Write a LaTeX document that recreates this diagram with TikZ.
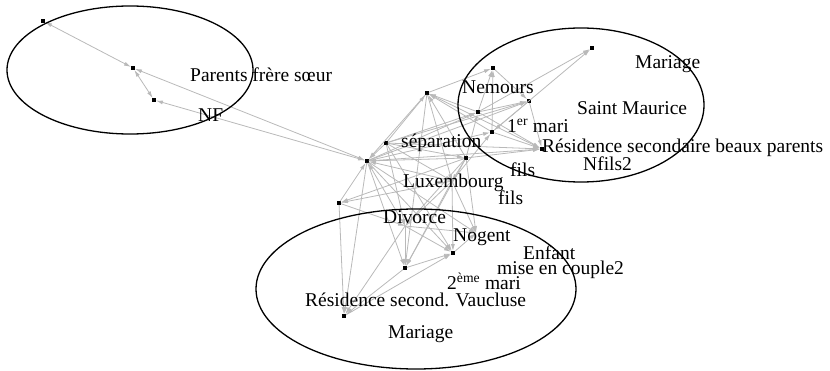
\documentclass[tikz,border=0pt]{standalone}
\usepackage{fontspec}
\setmainfont{Liberation Serif}
\usetikzlibrary{arrows.meta}
\tikzset{
  sommet/.style={fill=black, inner sep=0pt, minimum size=3.5pt},
  lien/.style={draw=gray!55, line width=0.8pt, -{Latex[length=7pt,width=4pt]}},
  lienbi/.style={lien, {Latex[length=7pt,width=4pt]}-{Latex[length=7pt,width=4pt]}},
  contour/.style={draw=black, line width=1.3pt},
  etiq/.style={anchor=base west, inner sep=0pt, font=\fontsize{19.5}{22}\selectfont}
}
\begin{document}
\begin{tikzpicture}[x=1pt, y=-1pt]
      \useasboundingbox (0, 0) rectangle (830, 371);

      \node[sommet] (A) at (43, 21){};
      \node[sommet] (B) at (133, 68){};
      \node[sommet] (C) at (154, 100){};
      \node[sommet] (J) at (367, 161){};
      \node[sommet] (I) at (386, 143){};
      \node[sommet] (E) at (427, 93){};
      \node[sommet] (D) at (493, 68){};
      \node[sommet] (F) at (478, 112){};
      \node[sommet] (G) at (529, 101){};
      \node[sommet] (H) at (492, 132){};
      \node[sommet] (K) at (466, 158){};
      \node[sommet] (M) at (542, 149){};
      \node[sommet] (N) at (592, 48){};
      \node[sommet] (L) at (339, 203){};
      \node[sommet] (P) at (453, 253){};
      \node[sommet] (Q) at (405, 268){};
      \node[sommet] (R) at (344, 316){};
      \coordinate (lux) at (452, 181);
      \coordinate (div) at (405, 226);
      \coordinate (nog) at (476, 233);

      \draw[lienbi] (A) to (B);
      \draw[lienbi] (B) to (C);
      \draw[lienbi] (B) to (J);
      \draw[lienbi] (C) to (J);

      \draw[lien] (I) to (J);
      \draw[lien] (E) to (J);
      \draw[lien] (L) to (J);
      \draw[lien] (lux) to (J);
      \draw[lien] (div) to (J);
      \draw[lien] (K) to (J);
      \draw[lien] (J) to (F);
      \draw[lien] (J) to (H);
      \draw[lien] (J) to (G);
      \draw[lien] (J) to (M);
      \draw[lien] (J) to (Q);
      \draw[lien] (J) to (P);
      \draw[lien] (J) to (R);
      \draw[lien] (J) to (nog);

      \draw[lien] (I) to (E);
      \draw[lien] (I) to (F);
      \draw[lien] (I) to (G);
      \draw[lien] (I) to (M);
      \draw[lien] (I) to (K);
      \draw[lien] (I) to (lux);
      \draw[lien] (I) to (div);
      \draw[lien] (I) to (P);

      \draw[lien] (F) to (E);
      \draw[lien] (H) to (E);
      \draw[lien] (K) to (E);
      \draw[lien] (E) to (M);
      \draw[lien] (E) to (D);
      \draw[lien] (E) to (lux);
      \draw[lien] (E) to (Q);

      \draw[lien] (F) to (D);
      \draw[lien] (H) to (D);
      \draw[lien] (D) to (G);
      \draw[lien] (F) to (G);
      \draw[lien] (F) to (N);
      \draw[lien] (H) to (N);
      \draw[lien] (F) to (M);
      \draw[lien] (G) to (M);
      \draw[lien] (H) to (M);
      \draw[lien] (K) to (M);
      \draw[lien] (K) to (F);
      \draw[lien] (lux) to (H);
      \draw[lien] (G) to (H);

      \draw[lien] (K) to (lux);
      \draw[lien] (K) to (div);
      \draw[lien] (K) to (nog);
      \draw[lien] (K) to (Q);
      \draw[lien] (lux) to (L);
      \draw[lien] (K) to (L);
      \draw[lien] (L) to (div);
      \draw[lien] (L) to (R);

      \draw[lien] (lux) to (div);
      \draw[lien] (lux) to (nog);
      \draw[lien] (lux) to (P);
      \draw[lien] (lux) to (Q);
      \draw[lien] (div) to (Q);
      \draw[lien] (div) to (P);
      \draw[lien] (div) to (R);
      \draw[lien] (div) to (nog);
      \draw[lien] (P) to (nog);
      \draw[lien] (Q) to (P);
      \draw[lien] (Q) to (R);
      \draw[lien] (R) to (P);

      \draw[contour] (130, 70) ellipse [x radius=123pt, y radius=64pt];
      \draw[contour] (581, 105) ellipse [x radius=123pt, y radius=77pt];
      \draw[contour] (416, 289) ellipse [x radius=160pt, y radius=80pt];

      \node[etiq] (parents) at (190, 82){Parents frère sœur};
      \node[etiq] (nf) at (198, 122){NF};
      \node[etiq] (nemours) at (462, 94){Nemours};
      \node[etiq] (mariage1) at (635, 69){Mariage};
      \node[etiq] (stmaurice) at (577, 115){Saint Maurice};
      \node[etiq] (mari1) at (507, 133){1\textsuperscript{er} mari};
      \node[etiq] (separation) at (401, 148){séparation};
      \node[etiq] (residence1) at (542, 153){Résidence secondaire beaux parents};
      \node[etiq] (nfils) at (583, 171){Nfils2};
      \node[etiq] (luxembourg) at (403, 188){Luxembourg};
      \node[etiq] (fils1) at (510, 177){fils};
      \node[etiq] (fils2) at (498, 205){fils};
      \node[etiq] (divorce) at (383, 224){Divorce};
      \node[etiq] (nogent) at (453, 242){Nogent};
      \node[etiq] (enfant) at (523, 260){Enfant};
      \node[etiq] (couple) at (497, 275){mise en couple2};
      \node[etiq] (mari2) at (447, 290){2\textsuperscript{ème} mari};
      \node[etiq] (residence2) at (305, 307){Résidence second. Vaucluse};
      \node[etiq] (mariage2) at (388, 338){Mariage};
    \end{tikzpicture}
\end{document}
